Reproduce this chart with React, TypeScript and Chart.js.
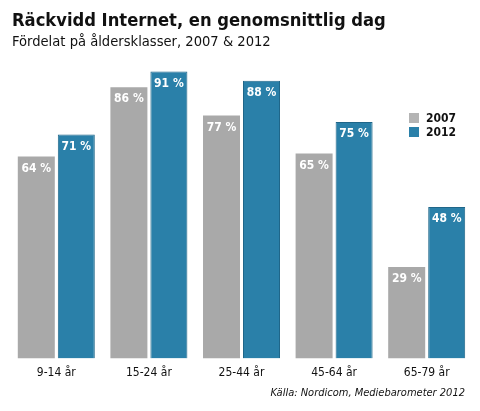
import Chart from 'chart.js/auto'
import { useEffect, useRef } from 'react'

const categories = ['9-14 år', '15-24 år', '25-44 år', '45-64 år', '65-79 år']
const values2007 = [64, 86, 77, 65, 29]
const values2012 = [71, 91, 88, 75, 48]
const seriesNames = ['2007', '2012']

const GRAY = '#a9a9a9'
const BLUE = '#2a80a9'
const FONT = '"DejaVu Sans Condensed", "DejaVu Sans", sans-serif'

const valueLabels = {
  id: 'valueLabels',
  afterDatasetsDraw(chart: Chart) {
    const ctx = chart.ctx
    ctx.save()
    ctx.fillStyle = '#ffffff'
    ctx.font = `bold 12px ${FONT}`
    ctx.textAlign = 'center'
    ctx.textBaseline = 'middle'
    chart.data.datasets.forEach((ds, i) => {
      chart.getDatasetMeta(i).data.forEach((bar, j) => {
        const { x, y } = bar.getProps(['x', 'y'], true)
        ctx.fillText(`${ds.data[j]} %`, x, y + 12)
      })
    })
    ctx.restore()
  }
}

export default function App() {
  const canvasRef = useRef<HTMLCanvasElement>(null)

  useEffect(() => {
    if (!canvasRef.current) return () => {}
    const chart = new Chart(canvasRef.current, {
      type: 'bar',
      data: {
        labels: categories,
        datasets: [
          {
            label: seriesNames[0],
            data: values2007,
            backgroundColor: GRAY,
            borderWidth: 0
          },
          {
            label: seriesNames[1],
            data: values2012,
            backgroundColor: BLUE,
            borderColor: '#1f6689',
            borderWidth: 1,
            borderSkipped: 'bottom'
          }
        ]
      },
      options: {
        animation: false,
        responsive: false,
        maintainAspectRatio: false,
        layout: { padding: { left: 10, right: 7, top: 43, bottom: 24 } },
        plugins: {
          legend: { display: false },
          tooltip: { enabled: false }
        },
        datasets: {
          bar: { categoryPercentage: 0.864, barPercentage: 0.925 }
        },
        scales: {
          x: {
            grid: { display: false, drawTicks: false },
            border: { display: false },
            ticks: {
              color: '#111111',
              padding: 7,
              font: { family: FONT, size: 12 }
            }
          },
          y: {
            display: false,
            min: 0,
            max: 100
          }
        }
      },
      plugins: [valueLabels]
    })
    return () => chart.destroy()
  }, [])

  return (
    <div
      style={{
        position: 'absolute',
        left: 0,
        top: 0,
        width: 480,
        height: 411,
        background: '#ffffff',
        fontFamily: FONT,
        color: '#111111'
      }}
    >
      <canvas ref={canvasRef} width={480} height={411} style={{ position: 'absolute', left: 0, top: 0 }} />
      <div style={{ position: 'absolute', left: 12, top: 9, fontSize: 18.2, fontWeight: 'bold', whiteSpace: 'nowrap' }}>
        Räckvidd Internet, en genomsnittlig dag
      </div>
      <div style={{ position: 'absolute', left: 12, top: 32, fontSize: 14.6, whiteSpace: 'nowrap' }}>
        Fördelat på åldersklasser, 2007 &amp; 2012
      </div>
      {seriesNames.map((name, i) => (
        <div
          key={name}
          style={{
            position: 'absolute',
            left: 409,
            top: 111 + i * 14,
            height: 14,
            display: 'flex',
            alignItems: 'center',
            fontSize: 12,
            fontWeight: 'bold'
          }}
        >
          <span style={{ width: 10, height: 10, background: i === 0 ? '#b4b4b4' : BLUE, marginRight: 7 }} />
          {name}
        </div>
      ))}
      <div
        style={{
          position: 'absolute',
          right: 15,
          top: 386,
          fontSize: 11,
          fontStyle: 'italic',
          whiteSpace: 'nowrap'
        }}
      >
        Källa: Nordicom, Mediebarometer 2012
      </div>
    </div>
  )
}
